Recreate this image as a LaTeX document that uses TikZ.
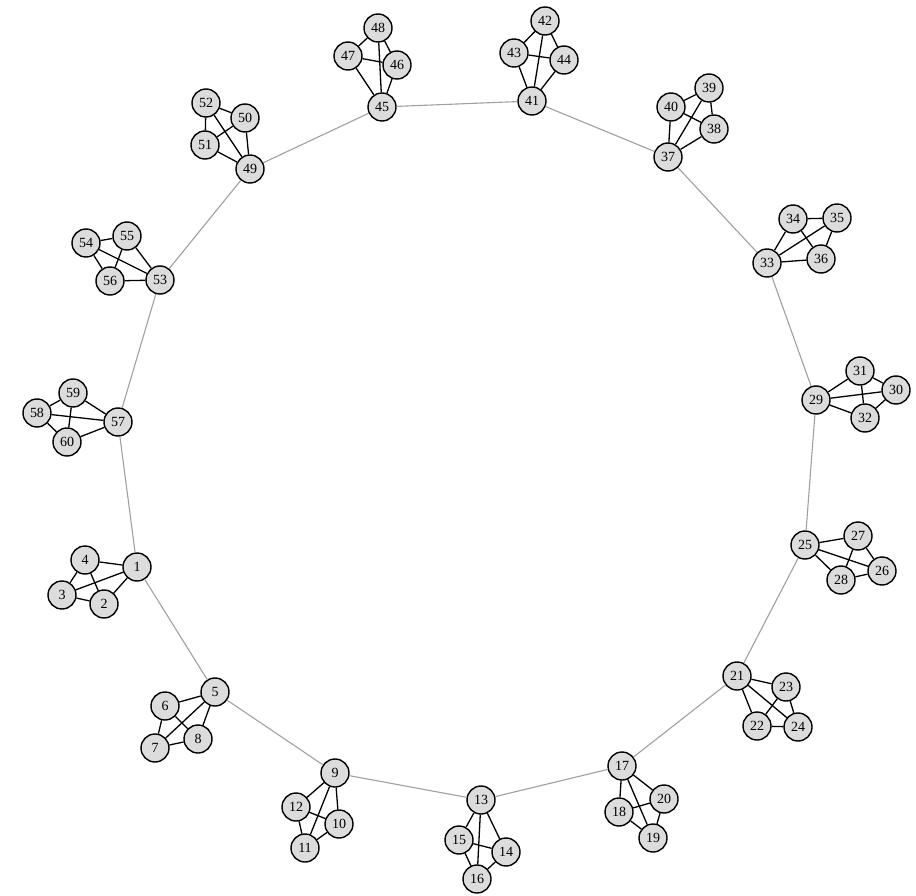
\documentclass[tikz,border=0pt]{standalone}
\usepackage{fontspec}
\setmainfont{Liberation Serif}
\usepackage{tikz}
\usetikzlibrary{positioning}
\definecolor{vtxfill}{RGB}{220,220,220}
\definecolor{ringgray}{RGB}{160,160,160}

\begin{document}
\begin{tikzpicture}[x=1pt, y=-1pt,
  vtx/.style={circle, draw=black, line width=1.4pt, fill=vtxfill, minimum size=28pt, inner sep=0pt, font=\fontsize{14}{14}\selectfont},
  clq/.style={black, line width=1.3pt},
  ring/.style={ringgray, line width=1.1pt}]
\useasboundingbox (0,0) rectangle (916,896);
% clique 1
\node[vtx] (n1) at (137,567) {1};
\node[vtx] (n2) at (104,604) {2};
\node[vtx] (n3) at (62,595) {3};
\node[vtx] (n4) at (85,560) {4};
% clique 5
\node[vtx] (n5) at (215,692) {5};
\node[vtx] (n6) at (165,706) {6};
\node[vtx] (n7) at (155,748) {7};
\node[vtx] (n8) at (198,739) {8};
% clique 9
\node[vtx] (n9) at (335,773) {9};
\node[vtx] (n10) at (339,824) {10};
\node[vtx] (n11) at (305,848) {11};
\node[vtx] (n12) at (296,807) {12};
% clique 13
\node[vtx] (n13) at (481,800) {13};
\node[vtx] (n14) at (506,852) {14};
\node[vtx] (n15) at (459,840) {15};
\node[vtx] (n16) at (477,879) {16};
% clique 17
\node[vtx] (n17) at (622,766) {17};
\node[vtx] (n18) at (619,812) {18};
\node[vtx] (n19) at (653,838) {19};
\node[vtx] (n20) at (664,799) {20};
% clique 21
\node[vtx] (n21) at (737,676) {21};
\node[vtx] (n22) at (757,726) {22};
\node[vtx] (n23) at (786,687) {23};
\node[vtx] (n24) at (798,727) {24};
% clique 25
\node[vtx] (n25) at (805,545) {25};
\node[vtx] (n26) at (882,571) {26};
\node[vtx] (n27) at (858,536) {27};
\node[vtx] (n28) at (841,580) {28};
% clique 29
\node[vtx] (n29) at (816,400) {29};
\node[vtx] (n30) at (896,390) {30};
\node[vtx] (n31) at (860,371) {31};
\node[vtx] (n32) at (865,418) {32};
% clique 33
\node[vtx] (n33) at (767,263) {33};
\node[vtx] (n34) at (793,219) {34};
\node[vtx] (n35) at (837,218) {35};
\node[vtx] (n36) at (821,259) {36};
% clique 37
\node[vtx] (n37) at (668,157) {37};
\node[vtx] (n38) at (714,129) {38};
\node[vtx] (n39) at (709,88) {39};
\node[vtx] (n40) at (671,107) {40};
% clique 41
\node[vtx] (n41) at (532,101) {41};
\node[vtx] (n42) at (545,21) {42};
\node[vtx] (n43) at (514,53) {43};
\node[vtx] (n44) at (564,60) {44};
% clique 45
\node[vtx] (n45) at (382,107) {45};
\node[vtx] (n46) at (397,65) {46};
\node[vtx] (n47) at (348,56) {47};
\node[vtx] (n48) at (378,28) {48};
% clique 49
\node[vtx] (n49) at (250,169) {49};
\node[vtx] (n50) at (245,118) {50};
\node[vtx] (n51) at (205,145) {51};
\node[vtx] (n52) at (206,103) {52};
% clique 53
\node[vtx] (n53) at (160,280) {53};
\node[vtx] (n54) at (86,243) {54};
\node[vtx] (n55) at (127,236) {55};
\node[vtx] (n56) at (110,281) {56};
% clique 57
\node[vtx] (n57) at (118,422) {57};
\node[vtx] (n58) at (37,413) {58};
\node[vtx] (n59) at (73,393) {59};
\node[vtx] (n60) at (67,442) {60};
% edges inside each clique
\foreach \a/\b/\c/\d in {1/2/3/4, 5/6/7/8, 9/10/11/12, 13/14/15/16, 17/18/19/20,
  21/22/23/24, 25/26/27/28, 29/30/31/32, 33/34/35/36, 37/38/39/40,
  41/42/43/44, 45/46/47/48, 49/50/51/52, 53/54/55/56, 57/58/59/60} {
  \draw[clq] (n\a) -- (n\b);
  \draw[clq] (n\a) -- (n\c);
  \draw[clq] (n\a) -- (n\d);
  \draw[clq] (n\b) -- (n\c);
  \draw[clq] (n\b) -- (n\d);
  \draw[clq] (n\c) -- (n\d);
}
% ring
\foreach \i/\j in {1/5, 5/9, 9/13, 13/17, 17/21, 21/25, 25/29, 29/33, 33/37,
  37/41, 41/45, 45/49, 49/53, 53/57, 57/1}
  \draw[ring] (n\i) -- (n\j);
\end{tikzpicture}
\end{document}
